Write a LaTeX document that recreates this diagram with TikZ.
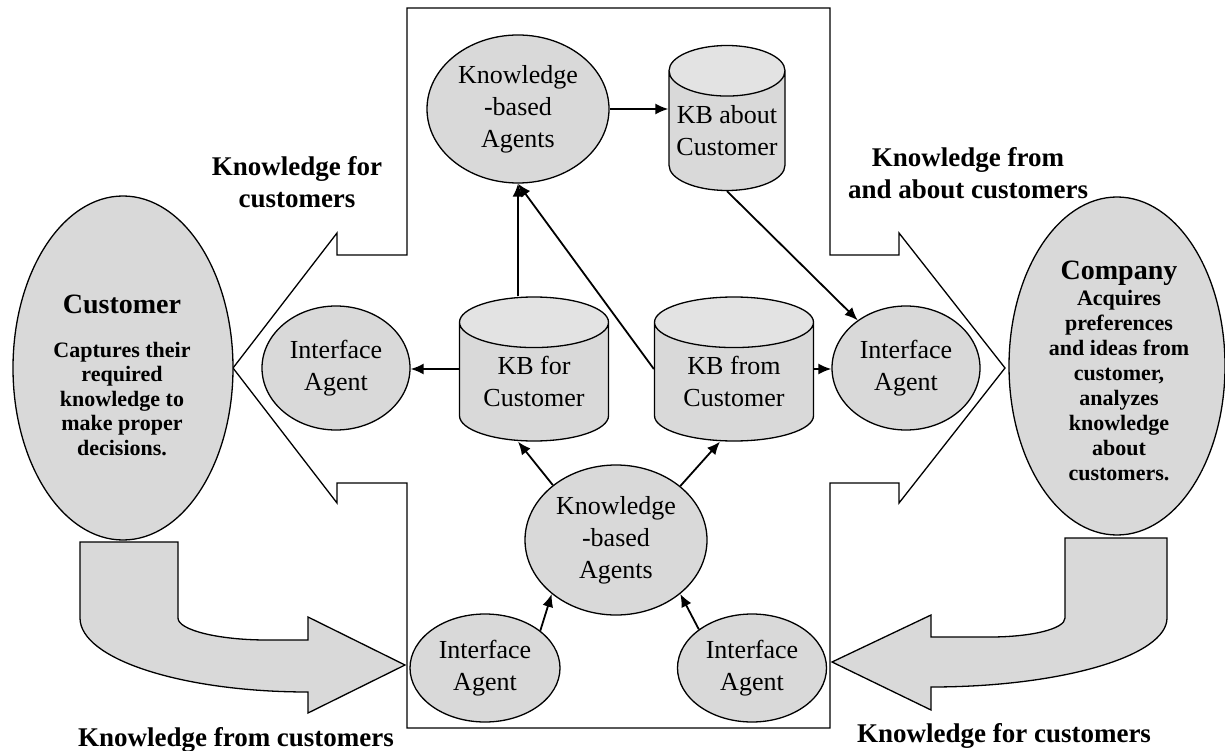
\documentclass[tikz,border=0pt]{standalone}
\usepackage{fontspec}
\setmainfont{Liberation Serif}
\usepackage{tikz}
\usetikzlibrary{shapes.geometric,arrows.meta}

\definecolor{fuellgrau}{HTML}{D9D9D9}
\definecolor{deckelgrau}{HTML}{E3E3E3}

\begin{document}
\begin{tikzpicture}[x=1pt, y=-1pt,
        >={Latex[length=13pt,width=11pt]}, % Pfeilspitzen
        umriss/.style={draw, line width=1.3pt},
        agent/.style={ellipse, umriss, fill=fuellgrau, inner sep=0pt, align=center,
            font=\fontsize{26}{32}\selectfont},
        wissen/.style={cylinder, shape border rotate=90, aspect=0.5, umriss,
            cylinder uses custom fill, cylinder body fill=fuellgrau,
            cylinder end fill=deckelgrau, inner sep=0pt, align=center,
            anchor=shape center, font=\fontsize{26}{32}\selectfont},
        partei/.style={ellipse, umriss, fill=fuellgrau, inner sep=0pt},
        titel/.style={inner sep=0pt, font=\fontsize{28}{30}\selectfont\bfseries},
        notiz/.style={inner sep=0pt, align=center, font=\fontsize{22}{24.5}\selectfont\bfseries},
        beschriftung/.style={inner sep=0pt, align=center, font=\fontsize{27}{32}\selectfont\bfseries},
        verbindung/.style={->, line width=1.8pt}
    ]
    \useasboundingbox (0,0) rectangle (1225,751);

    % Umriss: Kreuz mit zwei Pfeilspitzen
    \draw[umriss, fill=white] (407,8) -- (830,8) -- (830,255) -- (899,255) -- (899,233)
        -- (1005,368) -- (899,503) -- (899,483) -- (830,483) -- (830,728) -- (407,728)
        -- (407,483) -- (337,483) -- (337,503) -- (233,368) -- (337,233) -- (337,255)
        -- (407,255) -- cycle;

    % gebogene Pfeile unten
    \draw[umriss, fill=fuellgrau] (80,542) -- (178,542) -- (178,618)
        .. controls (178,630) and (218,640) .. (267,640) -- (308,640) -- (308,617)
        -- (405,665) -- (308,713) -- (308,692)
        .. controls (182,692) and (80,659) .. (80,618) -- cycle;
    \draw[umriss, fill=fuellgrau] (1167,538) -- (1065,538) -- (1065,618)
        .. controls (1065,629) and (1031,637) .. (990,637) -- (931,637) -- (931,615)
        -- (832,662) -- (931,710) -- (931,687)
        .. controls (1061,687) and (1167,656) .. (1167,618) -- cycle;

    % Kunde und Firma
    \node[partei, minimum width=220pt, minimum height=344pt] (kunde) at (123,368) {};
    \node[titel] (kundetitel) at (122,304) {Customer};
    \node[notiz] (kundetext) at (122,399) {Captures their\\required\\knowledge to\\make proper\\decisions.};
    \node[partei, minimum width=216pt, minimum height=338pt] (firma) at (1117,366) {};
    \node[titel] (firmatitel) at (1119,273) {Company};
    \node[notiz, font=\fontsize{22}{25}\selectfont\bfseries] (firmatext) at (1119,386)
        {Acquires\\preferences\\and ideas from\\customer,\\analyzes\\knowledge\\about\\customers.};

    % Agenten und Wissensbasen
    \node[agent, minimum width=182pt, minimum height=148pt] (wbaoben) at (518,109) {Knowledge\\-based\\Agents};
    \node[wissen, minimum width=116pt, minimum height=145pt] (kbueber) at (727,118) {KB about\\Customer};
    \node[agent, minimum width=148pt, minimum height=124pt] (iflinks) at (336,368) {Interface\\Agent};
    \node[wissen, minimum width=149pt, minimum height=144pt] (kbfuer) at (534,369) {KB for\\Customer};
    \node[wissen, minimum width=159pt, minimum height=144pt] (kbvon) at (734,369) {KB from\\Customer};
    \node[agent, minimum width=148pt, minimum height=124pt] (ifrechts) at (906,368) {Interface\\Agent};
    \node[agent, minimum width=182pt, minimum height=150pt] (wbaunten) at (616,540) {Knowledge\\-based\\Agents};
    \node[agent, minimum width=150pt, minimum height=108pt] (ifuntenlinks) at (485,668) {Interface\\Agent};
    \node[agent, minimum width=149pt, minimum height=108pt] (ifuntenrechts) at (752,668) {Interface\\Agent};

    % Verbindungen
    \draw[verbindung] (wbaoben.east) -- (wbaoben.east -| kbueber.west);
    \draw[verbindung] (wbaoben.south |- kbfuer.north) -- (wbaoben.south);
    \draw[verbindung] (kbvon.west |- kbvon.shape center) -- (wbaoben.south);
    \draw[verbindung] (kbfuer.west |- kbfuer.shape center) -- (iflinks.east |- kbfuer.shape center);
    \draw[verbindung] (kbvon.east |- kbvon.shape center) -- (ifrechts.west |- kbvon.shape center);
    \draw[verbindung] (kbueber.south) -- (ifrechts);
    \draw[verbindung] (wbaunten.139) -- (wbaoben.south |- kbfuer.south);
    \draw[verbindung] (wbaunten.40) -- ([xshift=-14pt]kbvon.south);
    \draw[verbindung] (ifuntenlinks.34) -- (wbaunten.220);
    \draw[verbindung] (ifuntenrechts.144) -- (wbaunten.320);

    % Beschriftungen
    \node[beschriftung] (lbfuer) at (297,182) {Knowledge for\\customers};
    \node[beschriftung] (lbvon) at (968,173) {Knowledge from\\and about customers};
    \node[beschriftung] (lbuntenlinks) at (236,740) {Knowledge from customers};
    \node[beschriftung] (lbuntenrechts) at (1004,736) {Knowledge for customers};
\end{tikzpicture}
\end{document}
